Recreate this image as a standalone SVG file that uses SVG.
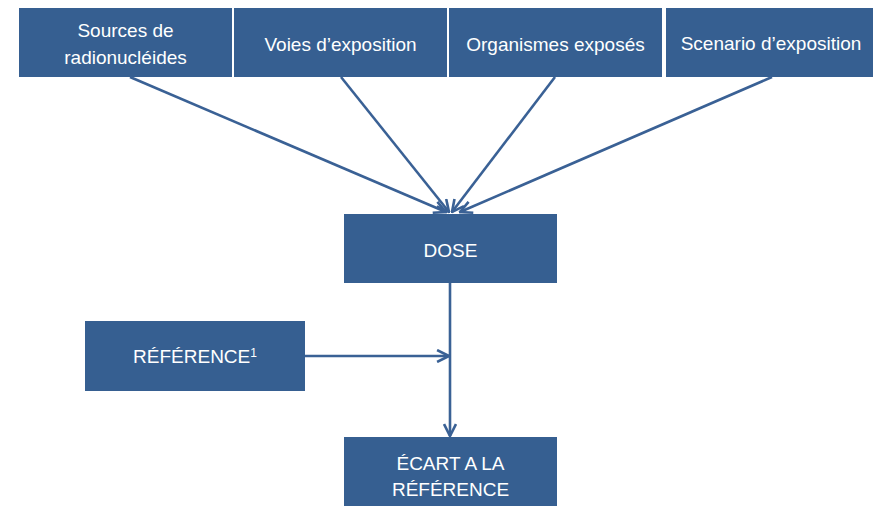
<svg xmlns="http://www.w3.org/2000/svg" width="873" height="506" viewBox="0 0 873 506">
<style>
.box{fill:#365F91;}
.t{font-family:"Liberation Sans","Open Sans",sans-serif;font-size:19px;fill:#ffffff;text-anchor:middle;}
.c{stroke:#3A6195;stroke-width:2.6;fill:none;}
</style>
<defs>
<marker id="ah" viewBox="0 0 12 12" refX="11" refY="6" markerWidth="5.5" markerHeight="5.5" markerUnits="strokeWidth" orient="auto">
<polyline points="1,1 11,6 1,11" fill="none" stroke="#3A6195" stroke-width="2.2"/>
</marker>
</defs>
<rect width="873" height="506" fill="#ffffff"/>
<g id="sources"><rect class="box" x="19" y="8" width="213" height="69"/><text class="t" x="125.5" y="37">Sources de</text><text class="t" x="125.5" y="64">radionucléides</text></g>
<g id="voies"><rect class="box" x="234" y="8" width="213" height="69"/><text class="t" x="340.5" y="51">Voies d’exposition</text></g>
<g id="organismes"><rect class="box" x="449" y="8" width="213" height="69"/><text class="t" x="555.5" y="51">Organismes exposés</text></g>
<g id="scenario"><rect class="box" x="666" y="8" width="210" height="69"/><text class="t" x="771" y="50">Scenario d’exposition</text></g>
<g id="dose"><rect class="box" x="344" y="214" width="213" height="69"/><text class="t" x="450.5" y="257">DOSE</text></g>
<g id="reference"><rect class="box" x="85" y="321" width="220" height="70"/><text class="t" x="195" y="363">RÉFÉRENCE<tspan font-size="12" dy="-6">1</tspan></text></g>
<g id="ecart"><rect class="box" x="344" y="437" width="213" height="69"/><text class="t" x="450.5" y="470">ÉCART A LA</text><text class="t" x="450.5" y="496">RÉFÉRENCE</text></g>
<g id="connectors">
<line class="c" x1="130" y1="77" x2="446" y2="212" marker-end="url(#ah)"/>
<line class="c" x1="341" y1="77" x2="449" y2="212" marker-end="url(#ah)"/>
<line class="c" x1="555" y1="77" x2="452" y2="212" marker-end="url(#ah)"/>
<line class="c" x1="772" y1="77" x2="460" y2="212" marker-end="url(#ah)"/>
<line class="c" x1="450" y1="283" x2="450" y2="436" marker-end="url(#ah)"/>
<line class="c" x1="305" y1="356" x2="449" y2="356" marker-end="url(#ah)"/>
</g>
</svg>
